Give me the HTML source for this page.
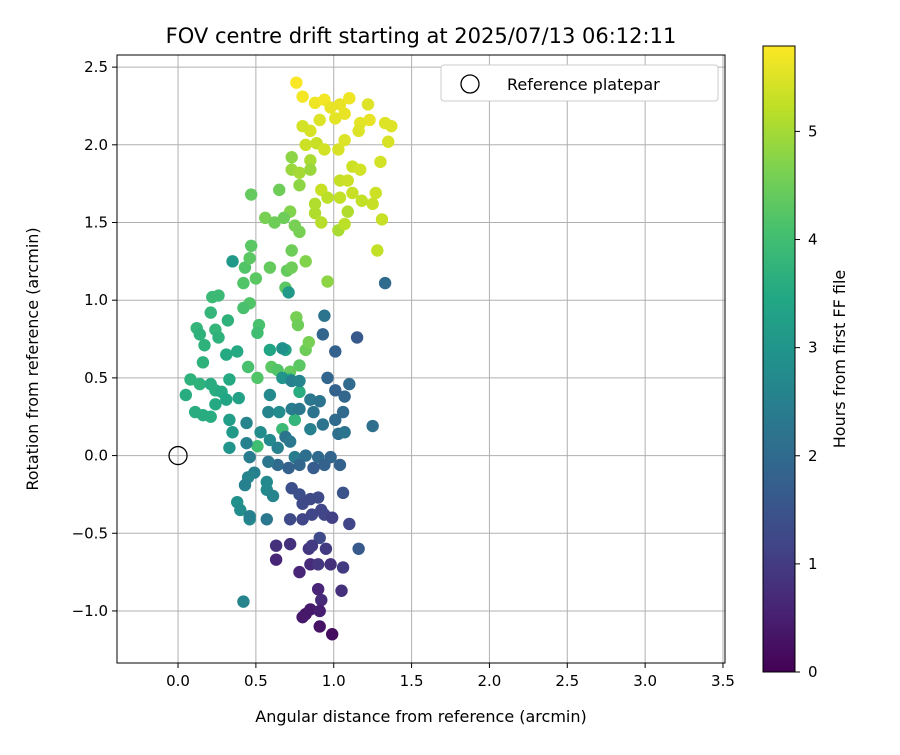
<!DOCTYPE html>
<html><head><meta charset="utf-8"><style>
body{margin:0;background:#fff;font-family:"Liberation Sans","DejaVu Sans",sans-serif}
</style></head><body>
<svg id="chart" width="900" height="750" xmlns="http://www.w3.org/2000/svg" font-family="DejaVu Sans, Liberation Sans, sans-serif">
<defs><linearGradient id="vir" x1="0" y1="1" x2="0" y2="0">
<stop offset="0" stop-color="#440154"/><stop offset="0.1" stop-color="#482475"/><stop offset="0.2" stop-color="#414487"/><stop offset="0.3" stop-color="#355f8d"/><stop offset="0.4" stop-color="#2a788e"/><stop offset="0.5" stop-color="#21918c"/><stop offset="0.6" stop-color="#22a884"/><stop offset="0.7" stop-color="#44bf70"/><stop offset="0.8" stop-color="#7ad151"/><stop offset="0.9" stop-color="#bddf26"/><stop offset="1" stop-color="#fde725"/></linearGradient>
<clipPath id="clip"><rect x="117" y="55" width="608" height="608"/></clipPath></defs>
<text x="421" y="43" text-anchor="middle" font-size="21">FOV centre drift starting at 2025/07/13 06:12:11</text>
<g id="grid"></g><g id="pts" clip-path="url(#clip)"></g>
<rect x="117" y="55" width="608" height="608" fill="none" stroke="#000" stroke-width="1"/>
<g id="ticks"></g>
<text x="421" y="722" text-anchor="middle" font-size="16">Angular distance from reference (arcmin)</text>
<text transform="translate(38,359) rotate(-90)" text-anchor="middle" font-size="16">Rotation from reference (arcmin)</text>
<g>
<rect x="441" y="65" width="277" height="36" rx="3" fill="#fff" stroke="#ccc"/>
<circle cx="470" cy="84" r="9" fill="none" stroke="#000" stroke-width="1.3"/>
<text x="507" y="90" font-size="16">Reference platepar</text></g>
<rect x="763" y="46" width="32" height="626" fill="url(#vir)" stroke="#000"/>
<g id="cbt"></g>
<text transform="translate(845,359) rotate(-90)" text-anchor="middle" font-size="16">Hours from first FF file</text>
</svg>
<script>
const xTicks=[0,0.5,1,1.5,2,2.5,3,3.5];
const yTicks=[-1,-0.5,0,0.5,1,1.5,2,2.5];
const cbTicks=[0,1,2,3,4,5];
const xs=[0.76,0.80,0.88,0.94,1.04,1.10,1.22,1.23,1.33,1.37,1.35,1.30,1.27,1.25,1.31,1.28,1.17,1.16,1.07,1.01,0.98,0.91,0.85,0.80,0.82,0.89,0.94,1.03,1.07,1.12,1.17,1.04,1.09,1.12,1.04,0.92,0.96,0.88,0.88,0.92,1.03,1.07,1.09,1.18,0.73,0.78,0.85,
0.47,0.65,0.73,0.78,0.85,0.56,0.62,0.72,0.75,0.68,0.78,0.82,0.73,0.70,0.73,0.69,0.59,0.50,0.42,0.43,0.46,0.47,0.46,0.42,0.52,0.51,0.26,0.22,0.21,0.32,0.24,0.26,0.12,0.14,0.17,0.38,0.31,0.08,0.14,0.21,0.24,0.28,0.24,0.31,0.39,0.16,0.11,0.21,0.05,0.16,0.33,0.45,0.51,0.60,0.64,0.72,0.78,0.82,0.84,0.76,0.77,0.96,0.69,0.59,0.72,0.78,0.75,0.67,0.51,
0.35,0.71,0.33,0.35,0.33,0.44,0.44,0.46,0.53,0.59,0.58,0.59,0.65,0.67,0.67,0.73,0.78,0.73,0.78,0.85,0.87,0.91,0.85,0.93,1.01,1.03,1.07,1.06,1.07,1.10,1.01,0.96,1.01,0.93,0.94,1.15,1.25,1.33,0.69,0.64,0.72,0.75,0.82,0.90,0.98,0.94,1.04,0.87,0.78,0.71,0.64,0.58,0.49,0.45,0.43,0.57,0.57,0.61,0.38,0.40,0.46,0.57,0.42,0.46,0.73,0.78,0.80,0.85,0.90,0.92,0.86,0.80,0.72,0.94,0.99,1.06,1.10,1.16,0.91,
0.63,0.63,0.72,0.84,0.78,0.85,0.90,0.95,0.98,1.06,1.05,0.90,0.92,0.82,0.85,0.91,0.80,0.91,0.99,0.86];
const ys=[2.40,2.31,2.27,2.29,2.26,2.30,2.26,2.16,2.14,2.12,2.02,1.89,1.69,1.62,1.52,1.32,2.14,2.09,2.20,2.17,2.24,2.16,2.09,2.12,2.00,2.01,1.97,1.97,2.03,1.86,1.84,1.77,1.77,1.69,1.66,1.71,1.66,1.62,1.56,1.50,1.45,1.49,1.57,1.64,1.84,1.82,1.90,
1.68,1.71,1.92,1.74,1.84,1.53,1.50,1.57,1.48,1.53,1.44,1.25,1.32,1.19,1.21,1.08,1.21,1.14,1.11,1.21,1.27,1.35,0.98,0.95,0.84,0.79,1.03,1.02,0.92,0.87,0.81,0.76,0.82,0.78,0.71,0.67,0.65,0.49,0.46,0.46,0.42,0.41,0.33,0.36,0.37,0.26,0.28,0.25,0.39,0.60,0.49,0.57,0.50,0.57,0.55,0.54,0.58,0.68,0.73,0.89,0.84,1.12,0.68,0.68,0.49,0.41,0.23,0.17,0.06,
1.25,1.05,0.23,0.15,0.05,0.21,0.08,-0.01,0.15,0.10,0.28,0.39,0.28,0.50,0.69,0.48,0.48,0.30,0.30,0.36,0.28,0.35,0.17,0.20,0.23,0.14,0.15,0.28,0.38,0.46,0.42,0.50,0.67,0.78,0.90,0.76,0.19,1.11,0.12,0.05,0.09,-0.01,0.00,-0.01,-0.01,-0.06,-0.06,-0.08,-0.06,-0.08,-0.06,-0.04,-0.11,-0.14,-0.19,-0.17,-0.22,-0.26,-0.30,-0.35,-0.41,-0.41,-0.94,-0.39,-0.21,-0.25,-0.31,-0.28,-0.27,-0.35,-0.38,-0.41,-0.41,-0.38,-0.40,-0.24,-0.44,-0.60,-0.53,
-0.58,-0.67,-0.57,-0.60,-0.75,-0.70,-0.70,-0.60,-0.70,-0.72,-0.87,-0.86,-0.93,-1.02,-0.99,-1.00,-1.04,-1.10,-1.15,-0.58];
const ts=[5.75,5.7,5.65,5.7,5.6,5.65,5.5,5.6,5.5,5.5,5.45,5.4,5.35,5.3,5.3,5.25,5.55,5.5,5.6,5.55,5.6,5.5,5.45,5.4,5.35,5.3,5.4,5.45,5.5,5.35,5.4,5.3,5.35,5.3,5.25,5.3,5.2,5.1,5.1,5.15,5.05,5.2,5.1,5.25,4.9,5.0,5.05,
4.4,4.5,4.8,4.8,4.9,4.6,4.5,4.7,4.6,4.5,4.6,4.7,4.5,4.4,4.5,4.3,4.4,4.3,4.2,4.2,4.3,4.3,4.2,4.1,4.1,4.0,3.9,3.9,3.8,3.7,3.8,3.7,3.8,3.7,3.7,3.5,3.5,3.7,3.7,3.6,3.6,3.5,3.5,3.4,3.3,3.6,3.6,3.6,3.6,3.7,3.5,4.1,4.2,4.3,4.2,4.4,4.3,4.5,4.6,4.6,4.5,4.8,3.3,3.4,3.5,3.6,3.8,3.9,4.0,
3.1,3.1,3.2,3.1,3.0,2.6,2.5,2.4,2.8,2.7,2.6,2.7,2.8,3.0,2.9,2.5,2.6,2.4,2.3,2.3,2.2,2.2,2.5,2.2,2.0,2.1,2.2,2.0,1.9,2.0,1.8,1.9,1.8,1.9,2.2,1.6,2.1,2.0,2.2,2.5,2.3,2.4,2.1,2.0,1.9,1.8,1.8,1.7,1.9,1.8,2.0,2.3,2.5,2.6,2.5,2.7,2.7,2.6,2.9,2.8,2.7,2.3,2.6,2.5,1.4,1.4,1.3,1.3,1.3,1.2,1.2,1.2,1.3,1.2,1.1,1.5,1.2,1.6,1.3,
0.8,0.6,0.8,0.9,0.6,0.7,0.9,1.0,0.8,1.0,0.8,0.6,0.7,0.3,0.4,0.5,0.4,0.3,0.2,1.0];
const NS="http://www.w3.org/2000/svg";
const X0=117,X1=725,Y0=55,Y1=663,xmin=-0.392,xmax=3.513,ymin=-1.335,ymax=2.578,TMAX=5.79;
const xs_=v=>X0+(v-xmin)/(xmax-xmin)*(X1-X0);
const ys_=v=>Y1-(v-ymin)/(ymax-ymin)*(Y1-Y0);
const cbY=v=>672-v/TMAX*626;
const vir=[[68,1,84],[72,36,117],[65,68,135],[53,95,141],[42,120,142],[33,145,140],[34,168,132],[68,191,112],[122,209,81],[189,223,38],[253,231,37]];
function cmap(t){let u=Math.max(0,Math.min(1,t/TMAX))*10,i=Math.min(9,Math.floor(u)),f=u-i;const a=vir[i],b=vir[i+1];return `rgb(${a.map((c,k)=>Math.round(c+(b[k]-c)*f)).join(',')})`;}
function mk(tag,attrs,parent){const e=document.createElementNS(NS,tag);for(const k in attrs)e.setAttribute(k,attrs[k]);document.getElementById(parent).appendChild(e);return e;}
xTicks.forEach(v=>{const x=xs_(v);
 const g=mk('line',{x1:x,x2:x,y1:Y0,y2:Y1,stroke:'#b0b0b0','stroke-width':1},'grid');
 mk('line',{x1:x,x2:x,y1:Y1,y2:Y1+5,stroke:'#000'},'ticks');
 const t=mk('text',{x:x,y:Y1+23,'text-anchor':'middle','font-size':15},'ticks');t.textContent=v.toFixed(1);
 });
yTicks.forEach(v=>{const y=ys_(v);
 const g=mk('line',{x1:X0,x2:X1,y1:y,y2:y,stroke:'#b0b0b0','stroke-width':1},'grid');
 mk('line',{x1:X0-5,x2:X0,y1:y,y2:y,stroke:'#000'},'ticks');
 const t=mk('text',{x:X0-9,y:y+5,'text-anchor':'end','font-size':15},'ticks');t.textContent=(v<0?'\u2212':'')+Math.abs(v).toFixed(1);
 });
cbTicks.forEach(v=>{const y=cbY(v);
 mk('line',{x1:795,x2:800,y1:y,y2:y,stroke:'#000'},'cbt');
 const t=mk('text',{x:808,y:y+5,'font-size':15},'cbt');t.textContent=v;
 });
xs.forEach((v,i)=>{const c=mk('circle',{cx:xs_(v),cy:ys_(ys[i]),r:6.2,fill:cmap(ts[i])},'pts');
 });
const ref=mk('circle',{cx:xs_(0),cy:ys_(0),r:9,fill:'none',stroke:'#000','stroke-width':1.3},'pts');


</script>
</body></html>
